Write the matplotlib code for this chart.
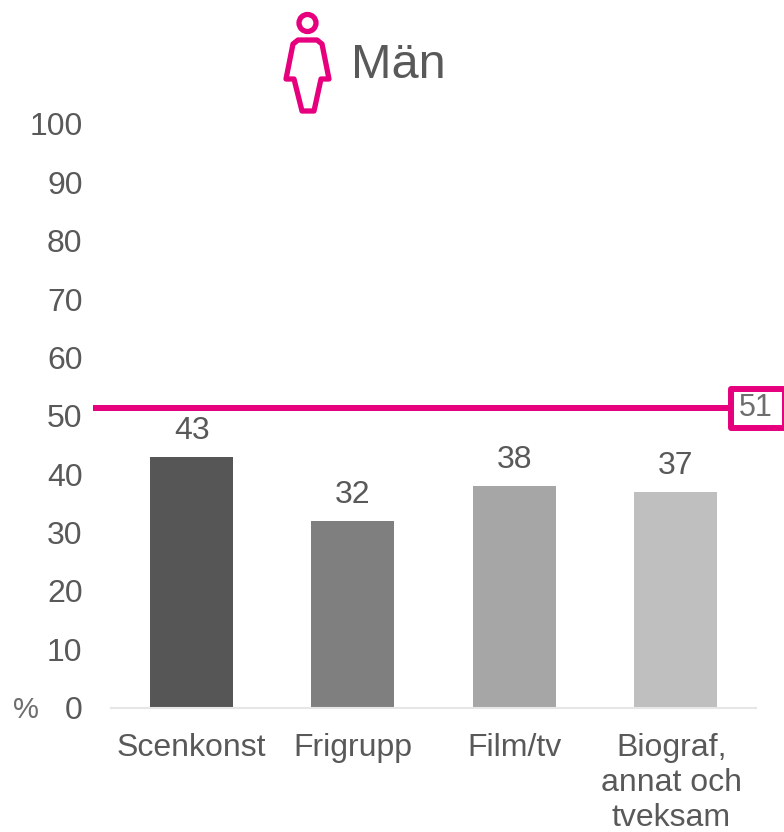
import matplotlib
matplotlib.use("Agg")
import matplotlib.pyplot as plt
from matplotlib.patches import Circle, Polygon, Rectangle
from matplotlib.transforms import blended_transform_factory, Affine2D

plt.rcParams['font.family'] = ['Liberation Sans', 'DejaVu Sans']

categories = ["Scenkonst", "Frigrupp", "Film/tv", "Biograf,\nannat och\ntveksam"]
values = [43, 32, 38, 37]
bar_colors = ["#565656", "#7f7f7f", "#a6a6a6", "#bfbfbf"]
yticks = [0, 10, 20, 30, 40, 50, 60, 70, 80, 90, 100]
ref_value = 51
title = "Män"

W, H = 784, 832
PINK = "#e6007e"
GREY = "#595959"

fig = plt.figure(figsize=(W/100, H/100), dpi=100)
ax = fig.add_axes([111/W, 1-707.5/H, 645/W, 583.5/H])

ax.bar(range(4), values, width=0.515, color=bar_colors)
ax.set_xlim(-0.5, 3.5)
ax.set_ylim(0, 100)

for i, v in enumerate(values):
    ax.text(i, v+1.8, str(v), ha='center', va='bottom', fontsize=23, color=GREY)

ax.set_yticks(yticks)
ax.set_xticks(range(4))
ax.set_xticklabels(categories, linespacing=1.22)
ax.tick_params(axis='y', length=0, labelsize=23, labelcolor=GREY, pad=20.5)
ax.tick_params(axis='x', length=0, labelsize=23, labelcolor=GREY, pad=18.5)
for s in ['top', 'right', 'left']:
    ax.spines[s].set_visible(False)
ax.spines['bottom'].set_color("#e6e6e6")
ax.spines['bottom'].set_linewidth(1.5)

# last label sits a bit left of its bar in the original
last = ax.get_xticklabels()[-1]
last.set_transform(last.get_transform() + Affine2D().translate(-4, 0))

# reference line, runs past the axes on the left up to the box on the right
# nudged 2px up, the original sits slightly above its value
trans = blended_transform_factory(ax.transAxes, ax.transData) + Affine2D().translate(0, 2)
ax.plot([-18/645, 620/645], [ref_value, ref_value], transform=trans, color=PINK, lw=4.3,
        clip_on=False, solid_capstyle='butt')
ax.text(645/645, ref_value, str(ref_value), transform=trans, ha='center', va='center',
        fontsize=22, color="#6e6e6e", clip_on=False, zorder=5)

# overlay in pixel coordinates for title, icon, box and %
ov = fig.add_axes([0, 0, 1, 1])
ov.set_xlim(0, W)
ov.set_ylim(H, 0)
ov.axis('off')
ov.patch.set_alpha(0)

ov.text(398, 66, title, ha='center', va='center', fontsize=35, color=GREY)
ov.text(26, 710, "%", ha='center', va='center', fontsize=21, color="#6e6e6e")

ov.add_patch(Rectangle((731, 389), 54, 38.5, fc='none', ec=PINK, lw=4.3, joinstyle='round'))

ov.add_patch(Circle((307.5, 23), 8.5, fc='none', ec=PINK, lw=3.8))
body = [(298, 40), (317, 40), (322, 44), (329, 79), (321, 79), (314, 111),
        (302, 111), (294, 79), (286, 79), (293, 44)]
ov.add_patch(Polygon(body, closed=True, fc='none', ec=PINK, lw=3.8, joinstyle='round'))

fig.savefig("out.png", dpi=100)
